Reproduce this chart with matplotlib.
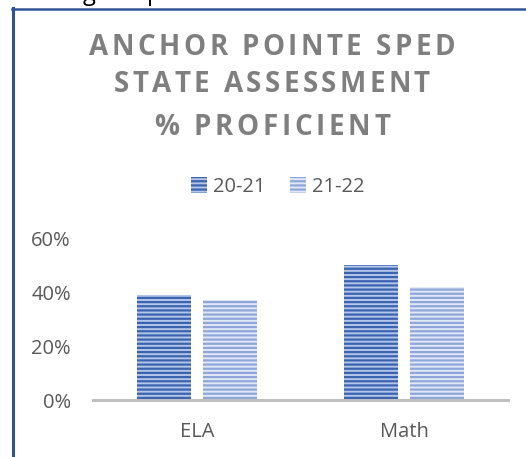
import matplotlib
matplotlib.use("Agg")
import matplotlib.pyplot as plt
from matplotlib.font_manager import FontProperties
from matplotlib.lines import Line2D
from matplotlib.ticker import PercentFormatter
import numpy as np

categories = ["ELA", "Math"]
series_names = ["20-21", "21-22"]
values_2021 = [0.39, 0.50]
values_2122 = [0.37, 0.42]
title_lines = ["ANCHOR POINTE SPED", "STATE ASSESSMENT", "% PROFICIENT"]

W, H = 526, 457
plt.rcParams["font.family"] = ["Open Sans", "DejaVu Sans"]
plt.rcParams["hatch.linewidth"] = 1.6

fig = plt.figure(figsize=(W / 100, H / 100), dpi=100)
ax = fig.add_axes([93 / W, 57 / H, 415 / W, 162 / H])

x = np.arange(len(categories)) + 0.5
bw = 0.262
off = 0.159
ax.bar(x - off, values_2021, bw, facecolor="#b4c6e8", edgecolor="#3a63b0",
       hatch="----", linewidth=0, label=series_names[0])
ax.bar(x + off, values_2122, bw, facecolor="#e2e9f6", edgecolor="#8ea6d9",
       hatch="----", linewidth=0, label=series_names[1])

ax.set_xlim(0, 2)
ax.set_ylim(0, 0.6)
ax.set_yticks([0, 0.2, 0.4, 0.6])
ax.yaxis.set_major_formatter(PercentFormatter(1.0, decimals=0))
ax.set_xticks(x, categories)
ax.tick_params(axis="both", length=0, labelsize=14.5, labelcolor="#595959")
ax.tick_params(axis="y", pad=16)
ax.tick_params(axis="x", pad=16)
for s in ["top", "right", "left"]:
    ax.spines[s].set_visible(False)
ax.spines["bottom"].set_color("#bfbfbf")
ax.spines["bottom"].set_linewidth(2.2)
ax.spines["bottom"].set_zorder(5)

fig.legend(loc="center", bbox_to_anchor=(278 / W, 1 - 187 / H), ncol=2,
           frameon=False, fontsize=14.5, labelcolor="#595959",
           handlelength=0.8, handleheight=0.8, handletextpad=0.3,
           columnspacing=1.2)


# title with wide letter spacing, placed one character at a time
def spaced_line(y_px, text, size, width_px):
    r = fig.canvas.get_renderer()
    fp = FontProperties(family=["Open Sans", "DejaVu Sans"], weight="bold", size=size)
    widths = [r.get_text_width_height_descent(c, fp, ismath=False)[0] for c in text]
    track = (width_px - sum(widths)) / (len(text) - 1)
    xpos = 272 - width_px / 2
    for c, w in zip(text, widths):
        fig.text(xpos / W, 1 - y_px / H, c, fontproperties=fp, color="#7f7f7f",
                 ha="left", va="baseline")
        xpos += w + track


title_widths = [366, 316, 236]
title_base = [55, 92, 135]
for line, wpx, ypx in zip(title_lines, title_widths, title_base):
    spaced_line(ypx, line, 20, wpx)

# document frame around the chart
fig.add_artist(Line2D([12.5 / W, 12.5 / W], [0, 1 - 8 / H], color="#2f5597",
                      linewidth=2.2, transform=fig.transFigure))
fig.add_artist(Line2D([11.5 / W, 1], [1 - 9 / H, 1 - 9 / H], color="#2f5597",
                      linewidth=1.8, transform=fig.transFigure))
# cropped body text above the frame
fig.text(89 / W, 1 + 0.5 / H, "g", fontsize=17, color="black", ha="center", va="baseline")
fig.text(154 / W, 1 + 0.5 / H, "p", fontsize=17, color="black", ha="center", va="baseline")

fig.savefig("out.png", dpi=100)
